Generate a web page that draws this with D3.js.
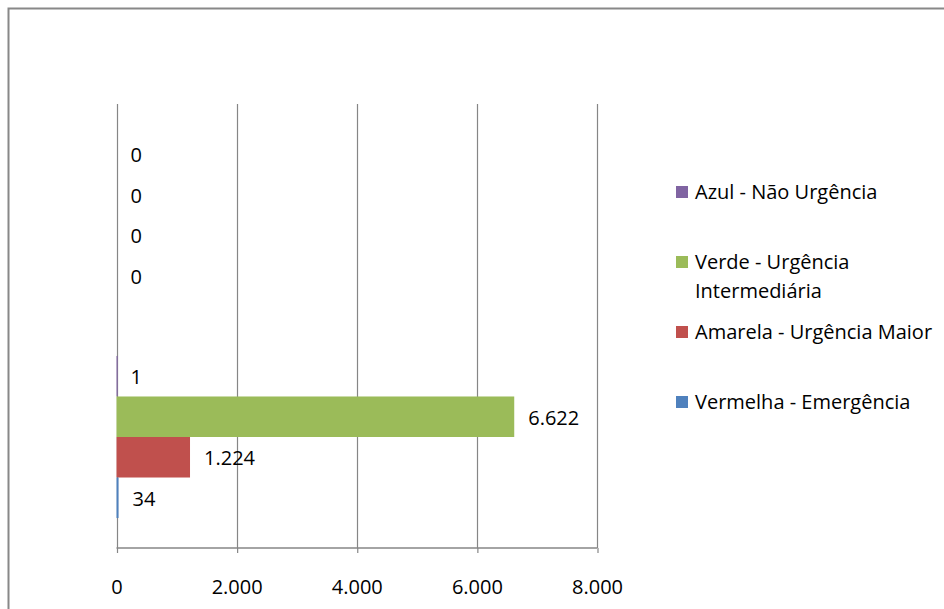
<!DOCTYPE html>
<html>
<head>
<meta charset="utf-8">
<script src="https://cdn.jsdelivr.net/npm/d3@7"></script>
<style>
  body { margin: 0; background: #fff; }
  svg text { font-family: "Open Sans", "Noto Sans", sans-serif; fill: #000; }
</style>
</head>
<body>
<div id="container"></div>
<script>
var WIDTH = 944,
	HEIGHT = 609;

// data
var categories = ["Categoria 2", "Categoria 1"];   // top group, bottom group
var seriesNames = ["Azul - Não Urgência", "Verde - Urgência Intermediária", "Amarela - Urgência Maior", "Vermelha - Emergência"];
var legendLines = [["Azul - Não Urgência"], ["Verde - Urgência", "Intermediária"], ["Amarela - Urgência Maior"], ["Vermelha - Emergência"]];
var seriesColors = ["#8064A2", "#9BBB59", "#C0504D", "#4F81BD"];
var valuesTop = [0, 0, 0, 0];
var valuesBottom = [1, 6622, 1224, 34];
var xTicks = [0, 2000, 4000, 6000, 8000];

var PLOT = { left: 116.5, right: 597, top: 104, bottom: 548 };

var ptBR = d3.formatLocale({ decimal: ",", thousands: ".", grouping: [3], currency: ["R$", ""] });
var fmt = ptBR.format(",d");

var xScale = d3.scaleLinear().domain([0, 8000]).range([PLOT.left, PLOT.right]);
var yScale = d3.scaleBand().domain(categories).range([PLOT.top, PLOT.bottom]);
var inner = d3.scaleBand().domain(seriesNames).range([0, yScale.bandwidth()])
	.paddingInner(0).paddingOuter(0.74);

var translate = function (x, y) {
	return "translate(" + x + "," + y + ")";
};

function drawChart() {
	var svg = d3.select('#container')
		.append('svg')
		.attr('width', WIDTH)
		.attr('height', HEIGHT);

	// outer frame (cut by the picture edges)
	svg.append('rect')
		.attr('x', 8.5).attr('y', 8.5)
		.attr('width', WIDTH + 20).attr('height', HEIGHT + 20)
		.attr('fill', 'none')
		.attr('stroke', '#888')
		.attr('stroke-width', 2);

	// vertical gridlines
	svg.append('g').selectAll('line').data(xTicks).enter()
		.append('line')
		.attr('x1', function(d){ return Math.round(xScale(d)) + 0.5 })
		.attr('x2', function(d){ return Math.round(xScale(d)) + 0.5 })
		.attr('y1', PLOT.top)
		.attr('y2', PLOT.bottom)
		.attr('stroke', '#868686')
		.attr('stroke-width', 1.2);

	// bottom axis
	var xAxis = d3.axisBottom(xScale).tickValues(xTicks).tickSize(5).tickFormat(fmt);
	var gx = svg.append('g')
		.attr('transform', translate(0, PLOT.bottom))
		.call(xAxis);
	gx.select('.domain').attr('stroke', '#868686').attr('stroke-width', 1.5)
		.attr('d', 'M' + PLOT.left + ',0H' + PLOT.right);
	gx.selectAll('.tick line').attr('stroke', '#868686').attr('stroke-width', 1.2)
		.attr('transform', function(){ return 'translate(0.5,0)' });
	gx.selectAll('.tick text')
		.attr('y', 46)
		.attr('dy', 0)
		.style('font-size', '20px')
		.style('font-family', '"Open Sans", sans-serif')
		.attr('fill', '#000');

	// bars
	var rows = [];
	categories.forEach(function(c){
		var vals = c === categories[0] ? valuesTop : valuesBottom;
		seriesNames.forEach(function(s, i){
			rows.push({ cat: c, name: s, value: vals[i], color: seriesColors[i] });
		});
	});

	svg.append('g').selectAll('rect').data(rows).enter()
		.append('rect')
		.attr('x', xScale(0))
		.attr('y', function(d){ return yScale(d.cat) + inner(d.name) })
		.attr('height', inner.bandwidth())
		.attr('width', function(d){
			var w = xScale(d.value) - xScale(0);
			return d.value > 0 ? Math.max(1.2, w) : 0;
		})
		.attr('fill', function(d){ return d.color });

	// data labels
	svg.append('g').selectAll('text').data(rows).enter()
		.append('text')
		.attr('x', function(d){ return xScale(d.value) + 14 })
		.attr('y', function(d){ return yScale(d.cat) + inner(d.name) + inner.bandwidth() / 2 + 1 })
		.attr('dy', '0.35em')
		.style('font-size', '20px')
		.text(function(d){ return fmt(d.value) });

	// legend
	var legendY = [192, 262, 332, 402];
	var lg = svg.append('g').selectAll('g').data(seriesNames).enter()
		.append('g')
		.attr('transform', function(d, i){ return translate(676, legendY[i]) });
	lg.append('rect')
		.attr('x', 0).attr('y', -6)
		.attr('width', 12).attr('height', 12)
		.attr('fill', function(d, i){ return seriesColors[i] });
	lg.append('text')
		.attr('x', 19)
		.attr('y', 0)
		.style('font-size', '20px')
		.selectAll('tspan').data(function(d, i){ return legendLines[i] }).enter()
		.append('tspan')
		.attr('x', 19)
		.attr('dy', function(d, j){ return j === 0 ? '0.35em' : '29px' })
		.text(function(d){ return d });
}

window.onload = drawChart;
</script>
</body>
</html>
